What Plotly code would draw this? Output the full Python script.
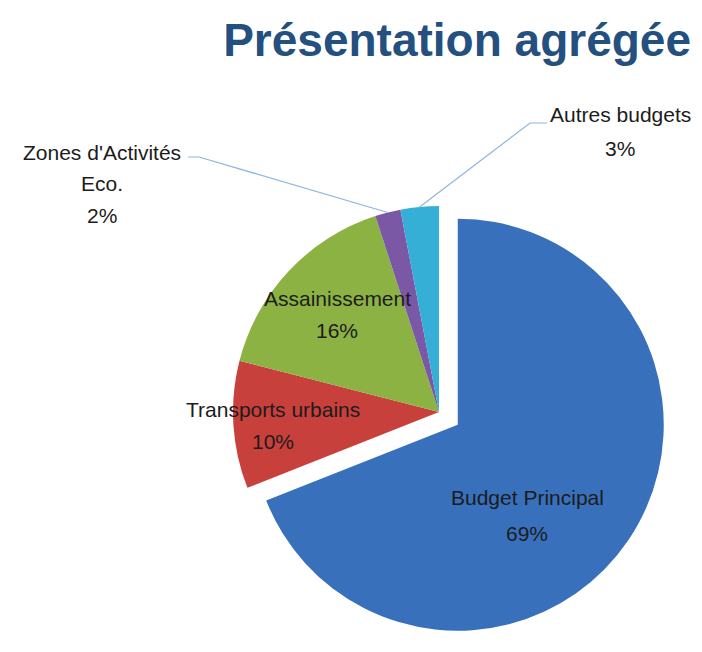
import math
import plotly.graph_objects as go

labels = ["Budget Principal", "Transports urbains", "Assainissement", "Zones d'Activités Eco.", "Autres budgets"]
label_lines = [["Budget Principal"], ["Transports urbains"], ["Assainissement"], ["Zones d'Activités", "Eco."], ["Autres budgets"]]
values = [69, 10, 16, 2, 3]
colors = ["#3870BC", "#C8403B", "#8DB244", "#7A58A5", "#35AFD5"]
pulls = [0.11, 0, 0, 0, 0]

W, H = 702, 652
# pie geometry (pixels)
CX, CY, R = 439, 412, 206
side = 2 * R * (1 + max(pulls))

def px(x):
    return x / W

def py(y):
    return 1 - y / H

fig = go.Figure(go.Pie(
    labels=labels, values=values, sort=False, direction="clockwise", rotation=0,
    pull=pulls, textinfo="none", hoverinfo="label+percent",
    marker=dict(colors=colors, line=dict(width=0)),
    domain=dict(x=[px(CX - side / 2), px(CX + side / 2)], y=[py(CY + side / 2), py(CY - side / 2)]),
    showlegend=False,
))

FONT = dict(family="Liberation Sans, Arial, sans-serif", size=21, color="#1c1c1c")
total = sum(values)
pcts = [f"{round(v * 100 / total)}%" for v in values]

# label anchor positions (pixel centers of first line) and line spacing
label_pos = [(527, 497, 36), (273, 409, 32), (337, 298, 33), (102, 152, 32), (620, 115, 33)]
for i, (x, y, dy) in enumerate(label_pos):
    lines = label_lines[i] + [pcts[i]]
    for j, t in enumerate(lines):
        fig.add_annotation(x=px(x), y=py(y + j * dy), xref="paper", yref="paper",
                           text=t, showarrow=False, font=FONT, xanchor="center", yanchor="middle",
                           borderpad=0)

# leader lines for the small outside slices, ending on the slice rim
cum = 0
mids = []
for v in values:
    mids.append((cum + v / 2) / total * 2 * math.pi)
    cum += v

def rim(i):
    a = mids[i]
    return CX + R * math.sin(a), CY - R * math.cos(a)

shapes = []
zx, zy = rim(3)
ax_, ay_ = rim(4)
leaders = [
    [(188, 157), (199, 157), (zx, zy)],
    [(547, 123), (530, 123), (ax_, ay_)],
]
for pts in leaders:
    path = "M " + " L ".join(f"{px(x)},{py(y)}" for x, y in pts)
    shapes.append(dict(type="path", path=path, xref="paper", yref="paper",
                       line=dict(color="#8DB4E2", width=1.2)))

fig.update_layout(
    width=W, height=H,
    margin=dict(l=0, r=0, t=0, b=0),
    paper_bgcolor="white", plot_bgcolor="white",
    shapes=shapes,
    title=dict(text="<b>Présentation agrégée</b>", x=691 / W, xanchor="right", xref="paper",
               y=1 - 40 / H, yanchor="middle", yref="container",
               font=dict(family="Liberation Sans, Arial, sans-serif",
                         size=46, color="#24507F")),
)

fig.write_html("out.html", config={"displayModeBar": False},
               post_script="document.body.style.margin='0';document.body.style.overflow='hidden';")
